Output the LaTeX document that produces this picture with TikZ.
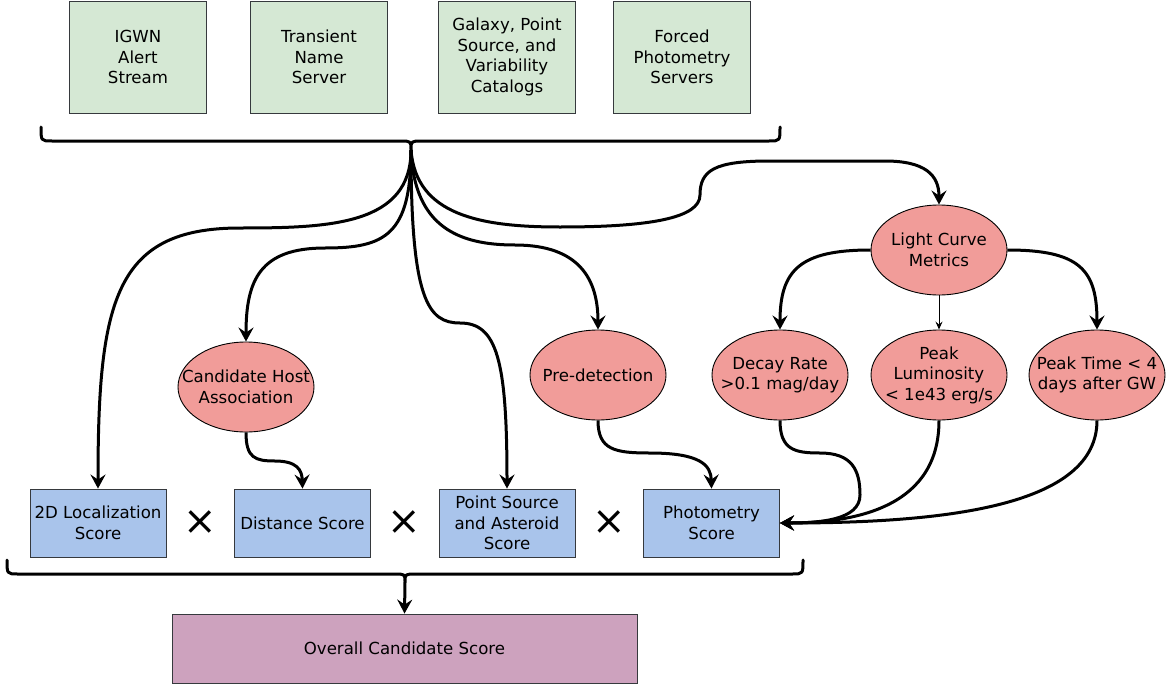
\documentclass[tikz,border=0pt]{standalone}
\usepackage{fontspec}
\setmainfont{DejaVu Sans}
\usetikzlibrary{shapes.geometric,arrows.meta}

\definecolor{boxline}{HTML}{36393D}
\definecolor{srcgreen}{HTML}{D5E8D4}
\definecolor{scoreblue}{HTML}{A9C4EB}
\definecolor{ovalred}{HTML}{F19C99}
\definecolor{totalpurple}{HTML}{CDA2BE}

\begin{document}
\begin{tikzpicture}[x=1pt,y=-1pt,
  every node/.style={font=\fontsize{16.6}{20.5}\selectfont, align=center},
  src/.style={draw=boxline, line width=0.9pt, fill=srcgreen, minimum width=137, minimum height=112, inner sep=0},
  score/.style={draw=boxline, line width=0.9pt, fill=scoreblue, minimum width=136, minimum height=68, inner sep=0},
  oval/.style={ellipse, draw=black, line width=0.9pt, fill=ovalred, minimum width=136, minimum height=90, inner sep=0},
  total/.style={draw=boxline, line width=0.9pt, fill=totalpurple, minimum width=465, minimum height=69},
  times/.style={font=\fontsize{40}{40}\selectfont, inner sep=0},
  brace/.style={line width=3pt, line join=round, line cap=round},
  conn/.style={line width=3pt, -{Stealth[length=14pt,width=15pt,inset=5pt]}},
  thinconn/.style={line width=0.9pt, -{Stealth[length=8pt,width=7pt,inset=3pt]}}]

\useasboundingbox (0,0) rectangle (1167,685);

\node[src] (igwn) at (138,57) {IGWN\\Alert\\Stream};
\node[src] (tns) at (319,57) {Transient\\Name\\Server};
\node[src] (cat) at (507,57) {Galaxy, Point\\Source, and\\Variability\\Catalogs};
\node[src] (fphot) at (682,57) {Forced\\Photometry\\Servers};

\draw[brace] (41,127) .. controls (41,141) .. (52,141) -- (400,141) .. controls (411,141) .. (411,150)
  .. controls (411,141) .. (422,141) -- (769,141) .. controls (780,141) .. (780,127);
\coordinate (srcTip) at (411,150);

\node[oval, label={center:Light Curve\\Metrics}] (lcm) at (939,250) {};
\node[oval, label={center:Candidate Host\\Association}] (host) at (246,387) {};
\node[oval, label={center:Pre-detection}] (predet) at (598,375) {};
\node[oval, label={center:Decay Rate\\>0.1 mag/day}] (decay) at (780,375) {};
\node[oval, label={center:Peak\\Luminosity\\< 1e43 erg/s}] (peaklum) at (939,375) {};
\node[oval, label={center:Peak Time < 4\\days after GW}] (peaktime) at (1097,375) {};

\node[score] (loc) at (98,523) {2D Localization\\Score};
\node[score] (dist) at (302.5,523) {Distance Score};
\node[score] (psa) at (507,523) {Point Source\\and Asteroid\\Score};
\node[score] (phot) at (711.5,523) {Photometry\\Score};

\node[times] (x1) at (200,523) {×};
\node[times] (x2) at (404,523) {×};
\node[times] (x3) at (609,523) {×};

\draw[brace] (7,560) .. controls (7,574) .. (18,574) -- (394,574) .. controls (405,574) .. (405,582)
  .. controls (405,574) .. (416,574) -- (792,574) .. controls (803,574) .. (803,560);
\coordinate (scoreTip) at (405,582);

\node[total] (total) at (404.5,648.5) {Overall Candidate Score};

\draw[conn] (srcTip) .. controls (411,225) and (330,228) .. (240,228) .. controls (115,228) and (98,300) .. (loc.north);
\draw[conn] (srcTip) .. controls (411,235) and (385,248) .. (325,248) .. controls (260,248) and (246,280) .. (host.north);
\draw[conn] (srcTip) .. controls (411,300) and (428,323) .. (460,323) .. controls (497,323) and (507,360) .. (psa.north);
\draw[conn] (srcTip) .. controls (414,228) and (460,245) .. (515,245) .. controls (580,245) and (598,280) .. (predet.north);
\draw[conn] (srcTip) .. controls (416,215) and (480,227) .. (560,227) .. controls (650,227) and (700,218) .. (700,195)
  .. controls (700,170) and (715,161) .. (770,161) -- (885,161) .. controls (925,161) and (939,175) .. (lcm.north);

\draw[conn] (host.south) .. controls (246,458) and (255,461) .. (275,461) .. controls (297,461) and (302,470) .. (dist.north);
\draw[conn] (predet.south) .. controls (598,450) and (615,453) .. (650,453) .. controls (700,453) and (711,465) .. (phot.north);

\draw[conn] (lcm.west) .. controls (800,250) and (780,270) .. (decay.north);
\draw[thinconn] (lcm.south) -- (peaklum.north);
\draw[conn] (lcm.east) .. controls (1080,250) and (1097,270) .. (peaktime.north);

\draw[conn] (decay.south) .. controls (780,450) and (795,453) .. (820,453) .. controls (852,453) and (860,470) .. (860,495)
  .. controls (860,520) and (820,523) .. (phot.east);
\draw[conn] (peaklum.south) .. controls (939,505) and (860,523) .. (phot.east);
\draw[conn] (peaktime.south) .. controls (1097,505) and (950,523) .. (phot.east);

\draw[conn] (scoreTip) -- (total.north);

\end{tikzpicture}
\end{document}
